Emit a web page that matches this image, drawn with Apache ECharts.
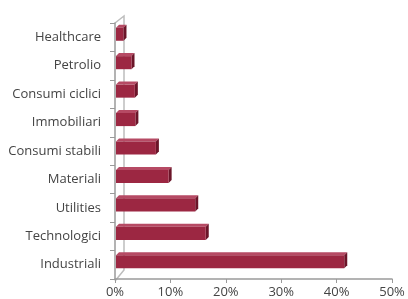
<!DOCTYPE html>
<html>
<head>
<meta charset="utf-8">
<script src="https://cdn.jsdelivr.net/npm/echarts@6/dist/echarts.min.js"></script>
<style>
html, body { margin: 0; padding: 0; background: #fff; }
#chart { width: 408px; height: 299px; }
</style>
</head>
<body>
<div id="chart"></div>
<script>
// dati del grafico (percentuali per settore)
var categories = ['Healthcare', 'Petrolio', 'Consumi ciclici', 'Immobiliari', 'Consumi stabili',
    'Materiali', 'Utilities', 'Technologici', 'Industriali'];
var values = [1.35, 2.8, 3.4, 3.5, 7.2, 9.5, 14.3, 16.2, 41.2];
var xTicks = [0, 10, 20, 30, 40, 50];

// layout
var G = { left: 115, right: 16, top: 23, bottom: 18 };
var DEPTH = 3;      // profondità 3D delle barre
var WALL = 9;       // profondità della parete di fondo

var chart = echarts.init(document.getElementById('chart'));

function renderBar(params, api) {
    var idx = api.value(0);
    var val = api.value(1);
    var p0 = api.coord([0, idx]);
    var p1 = api.coord([val, idx]);
    var band = api.size([0, 1])[1];
    var h = band * 0.46;
    var x0 = p0[0] + 1, x1 = p1[0] + 1;
    var y0 = p0[1] - 3 - h / 2, y1 = y0 + h;
    var d = DEPTH;
    return {
        type: 'group',
        children: [
            { type: 'polygon', shape: { points: [[x0, y0], [x1, y0], [x1 + d, y0 - d], [x0 + d, y0 - d]] },
              style: { fill: '#b64a64' } },
            { type: 'polygon', shape: { points: [[x1, y0], [x1 + d, y0 - d], [x1 + d, y1 - d], [x1, y1]] },
              style: { fill: '#6b1529' } },
            { type: 'rect', shape: { x: x0, y: y0, width: x1 - x0, height: h },
              style: { fill: '#9c2742' } }
        ]
    };
}

var data = values.map(function (v, i) { return [i, v]; });
var bottomY = 299 - G.bottom;

var option = {
    animation: false,
    grid: { left: G.left, right: G.right, top: G.top, bottom: G.bottom, containLabel: false },
    xAxis: {
        type: 'value',
        min: 0, max: 50, interval: 10,
        axisLine: { show: true, lineStyle: { color: '#9a9a9a', width: 1.5 } },
        axisTick: { show: true, length: 4, lineStyle: { color: '#9a9a9a' } },
        splitLine: { show: false },
        axisLabel: {
            margin: 7, color: '#444', fontSize: 13, fontFamily: 'Open Sans',
            formatter: function (v) { return xTicks.indexOf(v) >= 0 ? v + '%' : ''; }
        }
    },
    yAxis: {
        type: 'category',
        data: categories,
        inverse: true,
        axisLine: { show: true, lineStyle: { color: '#9a9a9a', width: 1.5 } },
        axisTick: { show: true, length: 5, lineStyle: { color: '#9a9a9a' } },
        axisLabel: { margin: 14, color: '#444', fontSize: 13, fontFamily: 'Open Sans' }
    },
    // parete di fondo in prospettiva
    graphic: [
        { type: 'polyline', silent: true,
          shape: { points: [[G.left, G.top], [G.left + WALL, G.top - 7], [G.left + WALL, bottomY - 11], [G.left, bottomY]] },
          style: { stroke: '#bdbdbd', lineWidth: 1.5, fill: null } }
    ],
    series: [{
        type: 'custom',
        renderItem: renderBar,
        encode: { x: 1, y: 0 },
        data: data
    }]
};
chart.setOption(option);
</script>
</body>
</html>
